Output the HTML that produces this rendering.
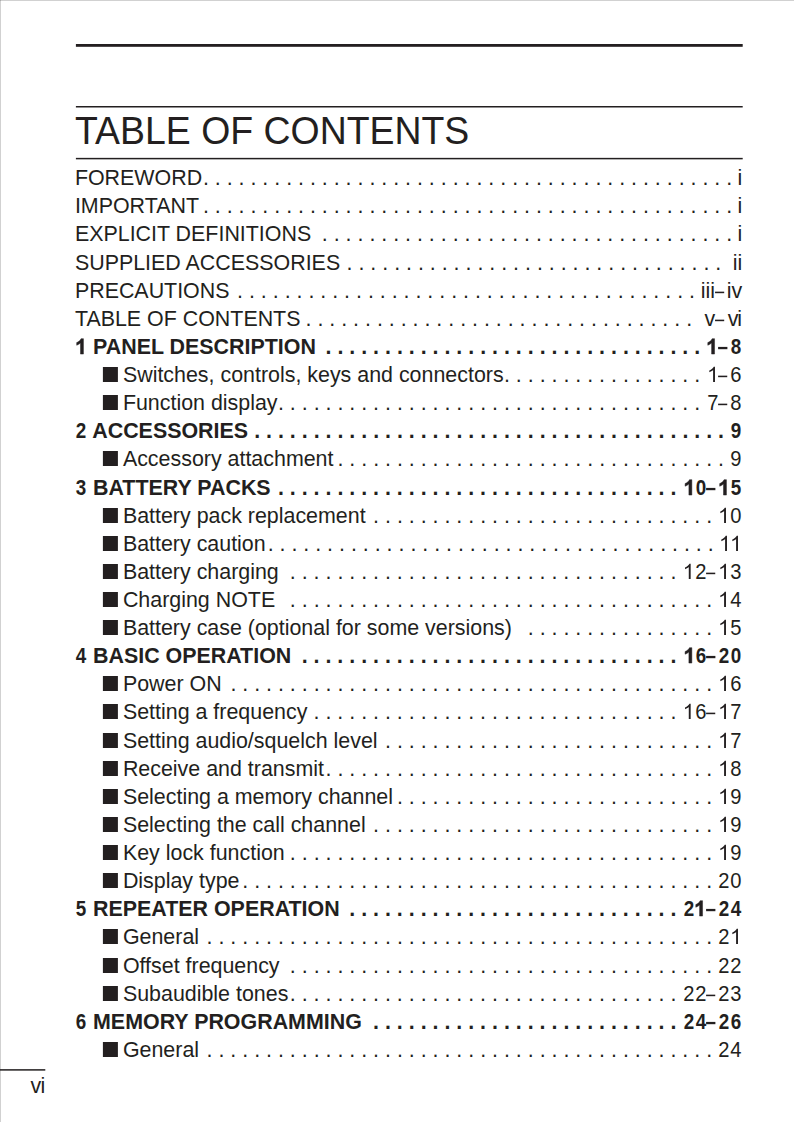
<!DOCTYPE html>
<html><head><meta charset="utf-8"><title>TABLE OF CONTENTS</title>
<style>
html,body{margin:0;padding:0;background:#fff;}
body{width:794px;height:1122px;position:relative;overflow:hidden;font-family:"Liberation Sans",sans-serif;color:#231f20;}
svg.g{position:absolute;left:0;top:0;}
h1{position:absolute;left:75.3px;top:109px;margin:0;font-weight:normal;font-size:38.3px;line-height:44px;white-space:nowrap;transform:scaleX(0.977);transform-origin:0 0;}
.r{position:absolute;left:0;width:794px;height:28px;line-height:28px;font-size:21.42px;white-space:pre;}
.r .t{position:absolute;left:74.9px;top:0;}
.r.s .t{left:122.9px;}
.r.b .t{left:75.2px;}
.r .p{position:absolute;right:51.7px;top:0;text-align:right;}
.r.n .p{right:52.0px;}
.p i,.p svg{margin-right:-0.2px;}
.r.b{font-weight:bold;}
i{display:inline-block;font-style:normal;transform:scale(0.94,1.05);transform-origin:50% 21px;}
.b i{transform:scale(0.88,1.05);}
svg.o{width:0.55615em;height:0.75em;vertical-align:baseline;overflow:visible;fill:#231f20;}
svg.o{stroke:none;}
.b svg.o path{stroke:#231f20;stroke-width:45;stroke-linejoin:miter;}
.t2{position:relative;left:-0.75px;}
.rv{position:relative;left:0.8px;}
.ri{position:relative;left:-0.3px;}
svg.o.k{margin-left:-0.0742em;}
svg.d{width:0.5556em;height:10px;vertical-align:baseline;overflow:visible;fill:#231f20;}
.pn{position:absolute;left:30.0px;top:1072px;font-size:21.42px;line-height:28px;}
</style></head><body>
<svg class="g" width="794" height="1122" viewBox="0 0 794 1122"><rect x="0" y="0" width="1" height="1122" fill="#000" fill-opacity="0.18"/><rect x="0" y="0" width="794" height="1" fill="#000" fill-opacity="0.18"/><g fill="#231f20"><rect x="75.9" y="44" width="666.8" height="2.8"/><rect x="75.9" y="106" width="666.8" height="1.5"/><rect x="75.9" y="157.85" width="666.8" height="1.5"/><rect x="0" y="1069.15" width="45.3" height="1.5"/><rect x="102.9" y="367" width="15" height="15"/><rect x="102.9" y="395" width="15" height="15"/><rect x="102.9" y="451" width="15" height="15"/><rect x="102.9" y="508" width="15" height="15"/><rect x="102.9" y="536" width="15" height="15"/><rect x="102.9" y="564" width="15" height="15"/><rect x="102.9" y="592" width="15" height="15"/><rect x="102.9" y="620" width="15" height="15"/><rect x="102.9" y="676" width="15" height="15"/><rect x="102.9" y="704" width="15" height="15"/><rect x="102.9" y="733" width="15" height="15"/><rect x="102.9" y="761" width="15" height="15"/><rect x="102.9" y="789" width="15" height="15"/><rect x="102.9" y="817" width="15" height="15"/><rect x="102.9" y="845" width="15" height="15"/><rect x="102.9" y="873" width="15" height="15"/><rect x="102.9" y="929" width="15" height="15"/><rect x="102.9" y="958" width="15" height="15"/><rect x="102.9" y="986" width="15" height="15"/><rect x="102.9" y="1042" width="15" height="15"/></g></svg>
<h1>TABLE OF CONTENTS</h1>
<div class="r" style="top:164px"><span class="t">FOREWORD</span><span class="p">. . . . . . . . . . . . . . . . . . . . . . . . . . . . . . . . . . . . . . . . . . . . . <span style="margin-left:-0.6px">i</span></span></div>
<div class="r" style="top:192px"><span class="t">IMPORTANT</span><span class="p">. . . . . . . . . . . . . . . . . . . . . . . . . . . . . . . . . . . . . . . . . . . . . <span style="margin-left:-0.6px">i</span></span></div>
<div class="r" style="top:220px"><span class="t">EXPLICIT DEFINITIONS</span><span class="p">. . . . . . . . . . . . . . . . . . . . . . . . . . . . . . . . . . . <span style="margin-left:-0.6px">i</span></span></div>
<div class="r" style="top:249px"><span class="t">SUPPLIED ACCESSORIES</span><span class="p">. . . . . . . . . . . . . . . . . . . . . . . . . . . . . . . . <span style="margin-left:5.6px">ii</span></span></div>
<div class="r" style="top:277px"><span class="t">PRECAUTIONS</span><span class="p">. . . . . . . . . . . . . . . . . . . . . . . . . . . . . . . . . . . . . . . <span style="margin-left:-0.1px">iii<svg class="d" viewBox="0 0 11.9010 10"><rect x="0.05" y="3.65" width="9.15" height="1.55"/></svg>iv</span></span></div>
<div class="r" style="top:305px"><span class="t">TABLE OF CONTENTS</span><span class="p">. . . . . . . . . . . . . . . . . . . . . . . . . . . . . . . . . <span style="margin-left:6.4px">v<svg class="d" viewBox="0 0 11.9010 10"><rect x="0.05" y="3.65" width="9.15" height="1.55"/></svg><span class="rv">v</span><span class="ri">i</span></span></span></div>
<div class="r b n" style="top:333px"><span class="t"><svg class="o" viewBox="0 0 1139 1536"><path transform="translate(0,1536) scale(1,-1)" d="M806 0H525V1059Q371 915 162 846V1101Q272 1137 401 1237.5Q530 1338 578 1472H806Z"/></svg> PANEL DESCRIPTION</span><span class="p">. . . . . . . . . . . . . . . . . . . . . . . . . . . . . . . . <span style="margin-left:0.7px"><svg class="o" viewBox="0 0 1139 1536"><path transform="translate(-85,1536) scale(1,-1)" d="M806 0H525V1059Q371 915 162 846V1101Q272 1137 401 1237.5Q530 1338 578 1472H806Z"/></svg><svg class="d" viewBox="0 0 11.9010 10"><rect x="-0.90" y="2.90" width="9.30" height="2.30"/></svg><i>8</i></span></span></div>
<div class="r s n" style="top:361px"><span class="t">Switches, controls, keys and connectors</span><span class="p">. . . . . . . . . . . . . . . . . <span style="margin-left:0.7px"><svg class="o" viewBox="0 0 1139 1536"><path transform="translate(0,1536) scale(1,-1)" d="M763 0H583V1147Q518 1085 412.5 1023Q307 961 223 930V1104Q374 1175 487 1276Q600 1377 647 1472H763Z"/></svg><svg class="d" viewBox="0 0 11.9010 10"><rect x="-0.90" y="3.65" width="9.15" height="1.55"/></svg><i>6</i></span></span></div>
<div class="r s n" style="top:389px"><span class="t">Function display</span><span class="p">. . . . . . . . . . . . . . . . . . . . . . . . . . . . . . . . . . . . <span style="margin-left:0.7px"><i>7</i><svg class="d" viewBox="0 0 11.9010 10"><rect x="-0.90" y="3.65" width="9.15" height="1.55"/></svg><i>8</i></span></span></div>
<div class="r b n" style="top:417px"><span class="t"><i>2</i> ACCESSORIES</span><span class="p">. . . . . . . . . . . . . . . . . . . . . . . . . . . . . . . . . . . . . . . . <span style="margin-left:0.3px"><i>9</i></span></span></div>
<div class="r s n" style="top:445px"><span class="t">Accessory attachment</span><span class="p">. . . . . . . . . . . . . . . . . . . . . . . . . . . . . . . . . <span style="margin-left:0.3px"><i>9</i></span></span></div>
<div class="r b n" style="top:474px"><span class="t"><i>3</i> BATTERY PACKS</span><span class="p">. . . . . . . . . . . . . . . . . . . . . . . . . . . . . . . . . . <span style="margin-left:1.1px"><svg class="o" viewBox="0 0 1139 1536"><path transform="translate(40,1536) scale(1,-1)" d="M806 0H525V1059Q371 915 162 846V1101Q272 1137 401 1237.5Q530 1338 578 1472H806Z"/></svg><i>0</i><svg class="d" viewBox="0 0 11.9010 10"><rect x="-0.90" y="2.90" width="9.30" height="2.30"/></svg><svg class="o t2" viewBox="0 0 1139 1536"><path transform="translate(0,1536) scale(1,-1)" d="M806 0H525V1059Q371 915 162 846V1101Q272 1137 401 1237.5Q530 1338 578 1472H806Z"/></svg><i>5</i></span></span></div>
<div class="r s n" style="top:502px"><span class="t">Battery pack replacement</span><span class="p">. . . . . . . . . . . . . . . . . . . . . . . . . . . . . <span style="margin-left:0.5px"><svg class="o t2" viewBox="0 0 1139 1536"><path transform="translate(0,1536) scale(1,-1)" d="M763 0H583V1147Q518 1085 412.5 1023Q307 961 223 930V1104Q374 1175 487 1276Q600 1377 647 1472H763Z"/></svg><i>0</i></span></span></div>
<div class="r s n" style="top:530px"><span class="t">Battery caution</span><span class="p">. . . . . . . . . . . . . . . . . . . . . . . . . . . . . . . . . . . . . . <span style="margin-left:0.5px"><svg class="o t2" viewBox="0 0 1139 1536"><path transform="translate(0,1536) scale(1,-1)" d="M763 0H583V1147Q518 1085 412.5 1023Q307 961 223 930V1104Q374 1175 487 1276Q600 1377 647 1472H763Z"/></svg><svg class="o k" viewBox="0 0 1139 1536"><path transform="translate(0,1536) scale(1,-1)" d="M763 0H583V1147Q518 1085 412.5 1023Q307 961 223 930V1104Q374 1175 487 1276Q600 1377 647 1472H763Z"/></svg></span></span></div>
<div class="r s n" style="top:558px"><span class="t">Battery charging</span><span class="p">. . . . . . . . . . . . . . . . . . . . . . . . . . . . . . . . . <span style="margin-left:1.1px"><svg class="o" viewBox="0 0 1139 1536"><path transform="translate(-30,1536) scale(1,-1)" d="M763 0H583V1147Q518 1085 412.5 1023Q307 961 223 930V1104Q374 1175 487 1276Q600 1377 647 1472H763Z"/></svg><i>2</i><svg class="d" viewBox="0 0 11.9010 10"><rect x="-0.90" y="3.65" width="9.15" height="1.55"/></svg><svg class="o t2" viewBox="0 0 1139 1536"><path transform="translate(0,1536) scale(1,-1)" d="M763 0H583V1147Q518 1085 412.5 1023Q307 961 223 930V1104Q374 1175 487 1276Q600 1377 647 1472H763Z"/></svg><i>3</i></span></span></div>
<div class="r s n" style="top:586px"><span class="t">Charging NOTE</span><span class="p">. . . . . . . . . . . . . . . . . . . . . . . . . . . . . . . . . . . . <span style="margin-left:0.5px"><svg class="o t2" viewBox="0 0 1139 1536"><path transform="translate(0,1536) scale(1,-1)" d="M763 0H583V1147Q518 1085 412.5 1023Q307 961 223 930V1104Q374 1175 487 1276Q600 1377 647 1472H763Z"/></svg><i>4</i></span></span></div>
<div class="r s n" style="top:614px"><span class="t">Battery case (optional for some versions)</span><span class="p">. . . . . . . . . . . . . . . . <span style="margin-left:0.5px"><svg class="o t2" viewBox="0 0 1139 1536"><path transform="translate(0,1536) scale(1,-1)" d="M763 0H583V1147Q518 1085 412.5 1023Q307 961 223 930V1104Q374 1175 487 1276Q600 1377 647 1472H763Z"/></svg><i>5</i></span></span></div>
<div class="r b n" style="top:642px"><span class="t"><i>4</i> BASIC OPERATION</span><span class="p">. . . . . . . . . . . . . . . . . . . . . . . . . . . . . . . . <span style="margin-left:1.1px"><svg class="o" viewBox="0 0 1139 1536"><path transform="translate(40,1536) scale(1,-1)" d="M806 0H525V1059Q371 915 162 846V1101Q272 1137 401 1237.5Q530 1338 578 1472H806Z"/></svg><i>6</i><svg class="d" viewBox="0 0 11.9010 10"><rect x="-0.90" y="2.90" width="9.30" height="2.30"/></svg><i class="t2">2</i><i>0</i></span></span></div>
<div class="r s n" style="top:670px"><span class="t">Power ON</span><span class="p">. . . . . . . . . . . . . . . . . . . . . . . . . . . . . . . . . . . . . . . . . <span style="margin-left:0.5px"><svg class="o t2" viewBox="0 0 1139 1536"><path transform="translate(0,1536) scale(1,-1)" d="M763 0H583V1147Q518 1085 412.5 1023Q307 961 223 930V1104Q374 1175 487 1276Q600 1377 647 1472H763Z"/></svg><i>6</i></span></span></div>
<div class="r s n" style="top:698px"><span class="t">Setting a frequency</span><span class="p">. . . . . . . . . . . . . . . . . . . . . . . . . . . . . . . <span style="margin-left:1.1px"><svg class="o" viewBox="0 0 1139 1536"><path transform="translate(-30,1536) scale(1,-1)" d="M763 0H583V1147Q518 1085 412.5 1023Q307 961 223 930V1104Q374 1175 487 1276Q600 1377 647 1472H763Z"/></svg><i>6</i><svg class="d" viewBox="0 0 11.9010 10"><rect x="-0.90" y="3.65" width="9.15" height="1.55"/></svg><svg class="o t2" viewBox="0 0 1139 1536"><path transform="translate(0,1536) scale(1,-1)" d="M763 0H583V1147Q518 1085 412.5 1023Q307 961 223 930V1104Q374 1175 487 1276Q600 1377 647 1472H763Z"/></svg><i>7</i></span></span></div>
<div class="r s n" style="top:727px"><span class="t">Setting audio/squelch level</span><span class="p">. . . . . . . . . . . . . . . . . . . . . . . . . . . . <span style="margin-left:0.5px"><svg class="o t2" viewBox="0 0 1139 1536"><path transform="translate(0,1536) scale(1,-1)" d="M763 0H583V1147Q518 1085 412.5 1023Q307 961 223 930V1104Q374 1175 487 1276Q600 1377 647 1472H763Z"/></svg><i>7</i></span></span></div>
<div class="r s n" style="top:755px"><span class="t">Receive and transmit</span><span class="p">. . . . . . . . . . . . . . . . . . . . . . . . . . . . . . . . . <span style="margin-left:0.5px"><svg class="o t2" viewBox="0 0 1139 1536"><path transform="translate(0,1536) scale(1,-1)" d="M763 0H583V1147Q518 1085 412.5 1023Q307 961 223 930V1104Q374 1175 487 1276Q600 1377 647 1472H763Z"/></svg><i>8</i></span></span></div>
<div class="r s n" style="top:783px"><span class="t">Selecting a memory channel</span><span class="p">. . . . . . . . . . . . . . . . . . . . . . . . . . . <span style="margin-left:0.5px"><svg class="o t2" viewBox="0 0 1139 1536"><path transform="translate(0,1536) scale(1,-1)" d="M763 0H583V1147Q518 1085 412.5 1023Q307 961 223 930V1104Q374 1175 487 1276Q600 1377 647 1472H763Z"/></svg><i>9</i></span></span></div>
<div class="r s n" style="top:811px"><span class="t">Selecting the call channel</span><span class="p">. . . . . . . . . . . . . . . . . . . . . . . . . . . . . <span style="margin-left:0.5px"><svg class="o t2" viewBox="0 0 1139 1536"><path transform="translate(0,1536) scale(1,-1)" d="M763 0H583V1147Q518 1085 412.5 1023Q307 961 223 930V1104Q374 1175 487 1276Q600 1377 647 1472H763Z"/></svg><i>9</i></span></span></div>
<div class="r s n" style="top:839px"><span class="t">Key lock function</span><span class="p">. . . . . . . . . . . . . . . . . . . . . . . . . . . . . . . . . . . . <span style="margin-left:0.5px"><svg class="o t2" viewBox="0 0 1139 1536"><path transform="translate(0,1536) scale(1,-1)" d="M763 0H583V1147Q518 1085 412.5 1023Q307 961 223 930V1104Q374 1175 487 1276Q600 1377 647 1472H763Z"/></svg><i>9</i></span></span></div>
<div class="r s n" style="top:867px"><span class="t">Display type</span><span class="p">. . . . . . . . . . . . . . . . . . . . . . . . . . . . . . . . . . . . . . . . <span style="margin-left:0.5px"><i class="t2">2</i><i>0</i></span></span></div>
<div class="r b n" style="top:895px"><span class="t"><i>5</i> REPEATER OPERATION</span><span class="p">. . . . . . . . . . . . . . . . . . . . . . . . . . . . <span style="margin-left:1.1px"><i>2</i><svg class="o" viewBox="0 0 1139 1536"><path transform="translate(-85,1536) scale(1,-1)" d="M806 0H525V1059Q371 915 162 846V1101Q272 1137 401 1237.5Q530 1338 578 1472H806Z"/></svg><svg class="d" viewBox="0 0 11.9010 10"><rect x="-0.90" y="2.90" width="9.30" height="2.30"/></svg><i class="t2">2</i><i>4</i></span></span></div>
<div class="r s n" style="top:923px"><span class="t">General</span><span class="p">. . . . . . . . . . . . . . . . . . . . . . . . . . . . . . . . . . . . . . . . . . . <span style="margin-left:0.5px"><i class="t2">2</i><svg class="o" viewBox="0 0 1139 1536"><path transform="translate(0,1536) scale(1,-1)" d="M763 0H583V1147Q518 1085 412.5 1023Q307 961 223 930V1104Q374 1175 487 1276Q600 1377 647 1472H763Z"/></svg></span></span></div>
<div class="r s n" style="top:952px"><span class="t">Offset frequency</span><span class="p">. . . . . . . . . . . . . . . . . . . . . . . . . . . . . . . . . . . . <span style="margin-left:0.5px"><i class="t2">2</i><i>2</i></span></span></div>
<div class="r s n" style="top:980px"><span class="t">Subaudible tones</span><span class="p">. . . . . . . . . . . . . . . . . . . . . . . . . . . . . . . . . <span style="margin-left:1.1px"><i>2</i><i>2</i><svg class="d" viewBox="0 0 11.9010 10"><rect x="-0.90" y="3.65" width="9.15" height="1.55"/></svg><i class="t2">2</i><i>3</i></span></span></div>
<div class="r b n" style="top:1008px"><span class="t"><i>6</i> MEMORY PROGRAMMING</span><span class="p">. . . . . . . . . . . . . . . . . . . . . . . . . . <span style="margin-left:1.1px"><i>2</i><i>4</i><svg class="d" viewBox="0 0 11.9010 10"><rect x="-0.90" y="2.90" width="9.30" height="2.30"/></svg><i class="t2">2</i><i>6</i></span></span></div>
<div class="r s n" style="top:1036px"><span class="t">General</span><span class="p">. . . . . . . . . . . . . . . . . . . . . . . . . . . . . . . . . . . . . . . . . . . <span style="margin-left:0.5px"><i class="t2">2</i><i>4</i></span></span></div>
<div class="pn"><span style="position:relative;left:0.5px">v</span><span style="position:relative;left:-0.25px">i</span></div>
</body></html>
